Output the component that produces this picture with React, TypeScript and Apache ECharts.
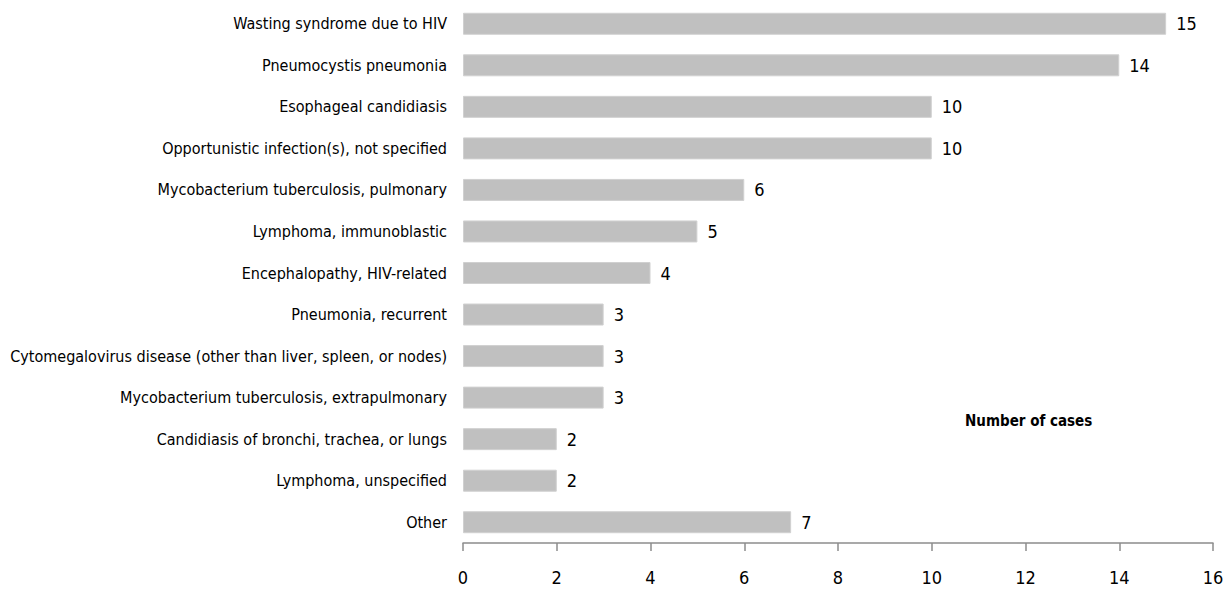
import React, { useEffect, useRef } from "react";
import * as echarts from "echarts";

const categories = [
  "Wasting syndrome due to HIV",
  "Pneumocystis pneumonia",
  "Esophageal candidiasis",
  "Opportunistic infection(s), not specified",
  "Mycobacterium tuberculosis, pulmonary",
  "Lymphoma, immunoblastic",
  "Encephalopathy, HIV-related",
  "Pneumonia, recurrent",
  "Cytomegalovirus disease (other than liver, spleen, or nodes)",
  "Mycobacterium tuberculosis, extrapulmonary",
  "Candidiasis of bronchi, trachea, or lungs",
  "Lymphoma, unspecified",
  "Other",
];
const values = [15, 14, 10, 10, 6, 5, 4, 3, 3, 3, 2, 2, 7];
const axisTitle = "Number of cases";

const FONT = "'DejaVu Sans Condensed', 'DejaVu Sans', sans-serif";

export default function App() {
  const ref = useRef<HTMLDivElement>(null);
  useEffect(() => {
    if (!ref.current) return;
    const chart = echarts.init(ref.current, undefined, { renderer: "svg" });
    chart.setOption({
      animation: false,
      backgroundColor: "#ffffff",
      textStyle: { fontFamily: FONT },
      grid: { left: 463, right: 17, top: 3, bottom: 47, containLabel: false, outerBoundsMode: "none" },
      xAxis: {
        type: "value",
        min: 0,
        max: 16,
        interval: 2,
        axisLine: { show: true, lineStyle: { color: "#8c8c8c", width: 1.5 } },
        axisTick: { show: true, inside: false, length: 8, lineStyle: { color: "#8c8c8c", width: 1.5 } },
        splitLine: { show: false },
        axisLabel: { color: "#000", fontSize: 18, fontFamily: FONT, margin: 25 },
      },
      yAxis: {
        type: "category",
        data: categories,
        inverse: true,
        axisLine: { show: false },
        axisTick: { show: false },
        axisLabel: { color: "#000", fontSize: 16, fontFamily: FONT, margin: 16 },
      },
      graphic: [
        {
          type: "text",
          left: 965,
          top: 413,
          style: { text: axisTitle, fontSize: 15, fontWeight: "bold", fontFamily: FONT, fill: "#000" },
        },
      ],
      series: [
        {
          type: "bar",
          data: values,
          barWidth: 22,
          itemStyle: { color: "#c0c0c0", borderColor: "#d0d0d0", borderWidth: 1 },
          label: {
            show: true,
            position: "right",
            distance: 10,
            color: "#000",
            fontSize: 18,
            fontFamily: FONT,
          },
        },
      ],
    });
    return () => chart.dispose();
  }, []);
  return (
    <div
      ref={ref}
      style={{ position: "fixed", left: 0, top: 0, width: 1230, height: 590 }}
    />
  );
}
